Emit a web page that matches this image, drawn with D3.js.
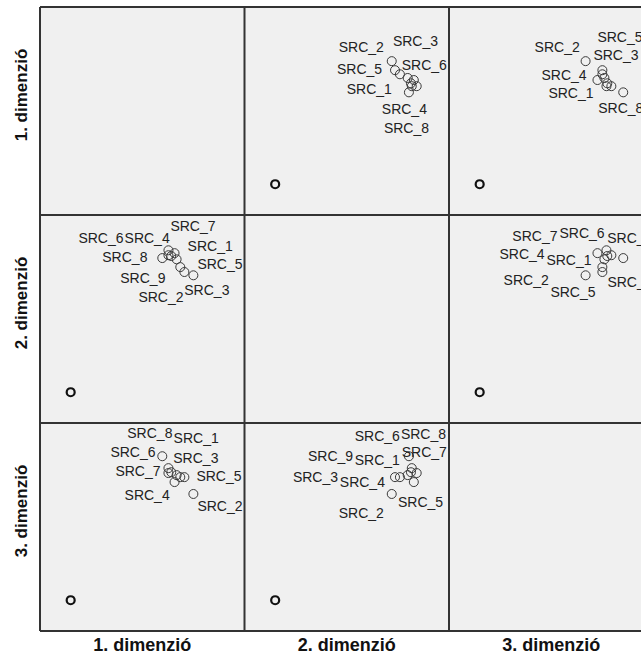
<!DOCTYPE html>
<html>
<head>
<meta charset="utf-8">
<script src="https://cdn.jsdelivr.net/npm/d3@7"></script>
<style>
  body { margin: 0; background: #fff; }
  svg { display: block; }
  text { font-family: "Liberation Sans", Arial, sans-serif; }
</style>
</head>
<body>
<div id="chart"></div>
<script>
// dimensions of the common space
const dims = ["1. dimenzió", "2. dimenzió", "3. dimenzió"];

// objects (last one is the unlabelled point far off the cluster)
const objects = ["SRC_1", "SRC_2", "SRC_3", "SRC_4", "SRC_5", "SRC_6", "SRC_7", "SRC_8", "SRC_9", ""];
const dim1 = [0.34, 0.75, 0.43, 0.29, 0.53, 0.14, 0.14, -0.01, 0.21, -2.25];
const dim2 = [0.99, 0.60, 0.80, 1.14, 0.68, 1.21, 1.09, 1.02, 1.07, -2.25];
const dim3 = [0.80, 0.34, 0.75, 0.63, 0.75, 0.85, 0.97, 1.26, 0.87, -2.25];

const width = 641, height = 660;
const margin_left = 40, margin_top = 7;
const pw = 204.5, ph = 208;

// label offsets (px from the point) per panel "row,col", in object order
const label_nudge = {
  "0,1": [[-61,16],[-53,-9],[-7,-28],[-32,34],[-58,4],[-15,-16],null,[-25,41],null],
  "0,2": [[-56,20],[-51,-9],[-9,-14],[-56,0],[-5,-28],null,null,[-25,21],null],
  "1,0": [[11,-8],[-55,27],[4,28],[-50,-10],[13,-3],[-90,-7],[2,-24],[-60,4],[-51,27]],
  "1,2": [[-58,6],[-82,10],[5,20],[-98,6],[-52,25],[-47,-12],[-99,-14],[-16,-15],null],
  "2,0": [[-3,-32],[4,17],[-7,-14],[-50,18],[12,4],[-58,-16],[-53,8],[-35,-18],null],
  "2,1": [[-53,-10],[-53,24],[-107,5],[-74,5],[3,30],[-62,-32],[-10,-11],[-8,-17],[-103,-11]]
};

let points = objects.map((name, i) => ({
  name: name,
  index: i,
  values: [dim1[i], dim2[i], dim3[i]]
}));

let x = d3.scaleLinear().domain([-3, 2]).range([0, pw]);
let y = d3.scaleLinear().domain([-3, 2.07]).range([ph, 0]);

let svg = d3.select("#chart").append("svg")
  .attr("width", width)
  .attr("height", height);

let cells = [];
for (var r = 0; r < 3; r++) {
  for (var c = 0; c < 3; c++) { cells.push({ row: r, col: c }); }
}

let cell = svg.selectAll(".cell").data(cells).enter()
  .append("g")
  .attr("class", "cell")
  .attr("transform", (d) => "translate(" + (margin_left + d.col * pw) + "," + (margin_top + d.row * ph) + ")");

cell.append("rect")
  .attr("width", pw)
  .attr("height", ph)
  .attr("fill", "#f0f0f0");

// points and labels, off the diagonal only
cell.filter((d) => d.row != d.col).each(function(d) {
  let g = d3.select(this);
  let nudge = label_nudge[d.row + "," + d.col];
  let px = (p) => x(p.values[d.col]);
  let py = (p) => y(p.values[d.row]);

  g.selectAll("circle").data(points).enter()
    .append("circle")
    .attr("cx", px)
    .attr("cy", py)
    .attr("r", (p) => p.name ? 4.5 : 4)
    .attr("fill", "none")
    .attr("stroke", (p) => p.name ? "#3a3a3a" : "#111")
    .attr("stroke-width", (p) => p.name ? 1 : 2.2);

  g.selectAll("text.lbl").data(points.filter((p) => p.name && nudge[p.index])).enter()
    .append("text")
    .attr("class", "lbl")
    .attr("x", (p) => px(p) + nudge[p.index][0])
    .attr("y", (p) => py(p) + nudge[p.index][1])
    .attr("font-size", 14)
    .attr("fill", "#222")
    .text((p) => p.name);
});

// grid lines on top
for (var i = 0; i <= 3; i++) {
  svg.append("line")
    .attr("x1", margin_left + i * pw).attr("x2", margin_left + i * pw)
    .attr("y1", margin_top).attr("y2", margin_top + 3 * ph)
    .attr("stroke", "#333").attr("stroke-width", 2);
  svg.append("line")
    .attr("x1", margin_left).attr("x2", margin_left + 3 * pw)
    .attr("y1", margin_top + i * ph).attr("y2", margin_top + i * ph)
    .attr("stroke", "#333").attr("stroke-width", 2);
}

// axis titles
svg.selectAll(".xtitle").data(dims).enter()
  .append("text")
  .attr("class", "xtitle")
  .attr("x", (d, i) => margin_left + (i + 0.5) * pw)
  .attr("y", 651)
  .attr("text-anchor", "middle")
  .attr("font-size", 18)
  .attr("font-weight", "bold")
  .attr("fill", "#111")
  .text((d) => d);

svg.selectAll(".ytitle").data(dims).enter()
  .append("text")
  .attr("class", "ytitle")
  .attr("transform", (d, i) => "translate(27," + (margin_top + (i + 0.5) * ph - 16) + ") rotate(-90)")
  .attr("text-anchor", "middle")
  .attr("font-size", 17)
  .attr("font-weight", "bold")
  .attr("fill", "#111")
  .text((d) => d);
</script>
</body>
</html>
